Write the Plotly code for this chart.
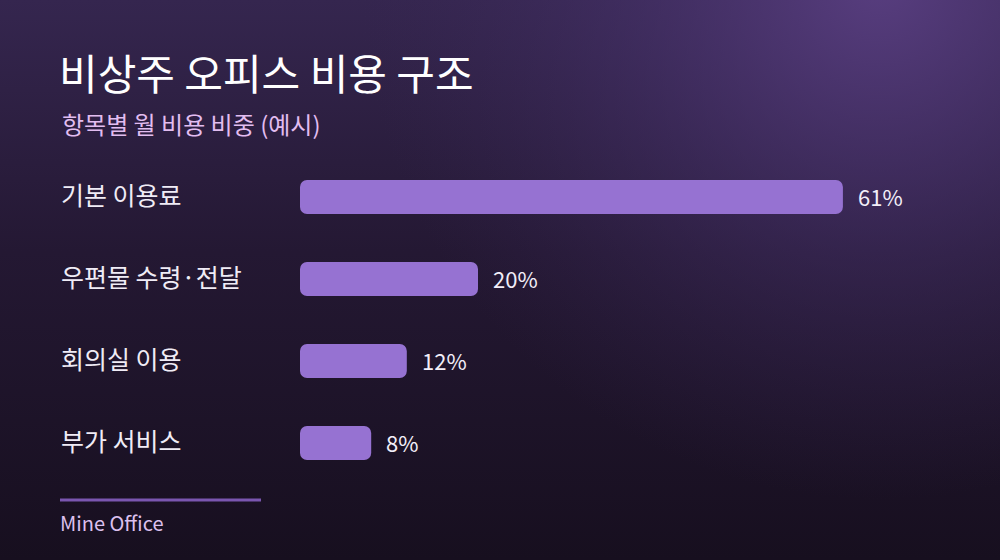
import base64
import plotly.graph_objects as go

categories = ["기본 이용료", "우편물 수령·전달", "회의실 이용", "부가 서비스"]
values = [61, 20, 12, 8]
value_labels = ["61%", "20%", "12%", "8%"]
title_text = "비상주 오피스 비용 구조"
subtitle_text = "항목별 월 비용 비중 (예시)"
footer_text = "Mine Office"

W, H = 1000, 560
L, R, T, B = 300, 900, 156, 484
PX_PER_UNIT = 8.9
FONT = "Noto Sans CJK KR, Noto Sans, sans-serif"
BAR_COLOR = "#9672d2"


def px_x(px):
    return (px - L) / (R - L)


def px_y(py):
    return (B - py) / (B - T)


svg = f"""<svg xmlns='http://www.w3.org/2000/svg' width='{W}' height='{H}' viewBox='0 0 {W} {H}'>
<defs>
<linearGradient id='g' x1='0' y1='0' x2='0' y2='1'>
<stop offset='0' stop-color='#35264f'/>
<stop offset='0.45' stop-color='#241833'/>
<stop offset='1' stop-color='#170f1f'/>
</linearGradient>
<radialGradient id='r' cx='{W*0.88}' cy='-20' r='520' gradientUnits='userSpaceOnUse'>
<stop offset='0' stop-color='#5a3f82' stop-opacity='0.95'/>
<stop offset='0.5' stop-color='#4a3470' stop-opacity='0.45'/>
<stop offset='1' stop-color='#3a2858' stop-opacity='0'/>
</radialGradient>
</defs>
<rect width='{W}' height='{H}' fill='url(#g)'/>
<rect width='{W}' height='{H}' fill='url(#r)'/>
</svg>"""
bg_uri = "data:image/svg+xml;base64," + base64.b64encode(svg.encode()).decode()

fig = go.Figure()
# explicit base -> plotly rounds both ends of each bar
fig.add_trace(go.Bar(
    x=values, y=categories, base=[0] * len(values), orientation="h",
    marker=dict(color=BAR_COLOR, cornerradius=7, line=dict(width=0)),
    width=0.415, hoverinfo="skip",
))

annotations = []
for c, v, lab in zip(categories, values, value_labels):
    annotations.append(dict(x=v, y=c, xref="x", yref="y", text=lab, showarrow=False,
                            xanchor="left", xshift=13, yshift=1,
                            font=dict(family=FONT, size=22, color="#f2eef8")))
    annotations.append(dict(x=px_x(59), y=c, xref="paper", yref="y", text=c, showarrow=False,
                            xanchor="left", yshift=3,
                            font=dict(family=FONT, size=25, color="#f0ecf6")))

annotations += [
    dict(x=px_x(57), y=px_y(71), xref="paper", yref="paper", text=title_text, showarrow=False,
         xanchor="left", yanchor="middle", font=dict(family=FONT, size=42, color="#ffffff")),
    dict(x=px_x(60), y=px_y(123), xref="paper", yref="paper", text=subtitle_text, showarrow=False,
         xanchor="left", yanchor="middle", font=dict(family=FONT, size=24, color="#e2bdf0")),
    dict(x=px_x(58), y=px_y(522), xref="paper", yref="paper", text=footer_text, showarrow=False,
         xanchor="left", yanchor="middle", font=dict(family=FONT, size=20, color="#dcc0ee")),
]

fig.update_layout(
    width=W, height=H,
    margin=dict(l=L, r=W - R, t=T, b=H - B),
    paper_bgcolor="#1f1530", plot_bgcolor="rgba(0,0,0,0)",
    showlegend=False,
    xaxis=dict(range=[0, (R - L) / PX_PER_UNIT], visible=False, fixedrange=True),
    yaxis=dict(categoryorder="array", categoryarray=categories,
               range=[3.5, -0.5], visible=False, fixedrange=True),
    annotations=annotations,
    shapes=[dict(type="line", xref="paper", yref="paper", x0=px_x(60), x1=px_x(261),
                 y0=px_y(500), y1=px_y(500), line=dict(color="#7a56b0", width=3))],
    images=[dict(source=bg_uri, xref="paper", yref="paper", x=px_x(0), y=px_y(0),
                 sizex=W / (R - L), sizey=H / (B - T), sizing="stretch",
                 xanchor="left", yanchor="top", layer="below")],
)

fig.write_html(
    "out.html",
    config={"displayModeBar": False},
    post_script="document.body.style.margin='0';document.body.style.overflow='hidden';",
)
